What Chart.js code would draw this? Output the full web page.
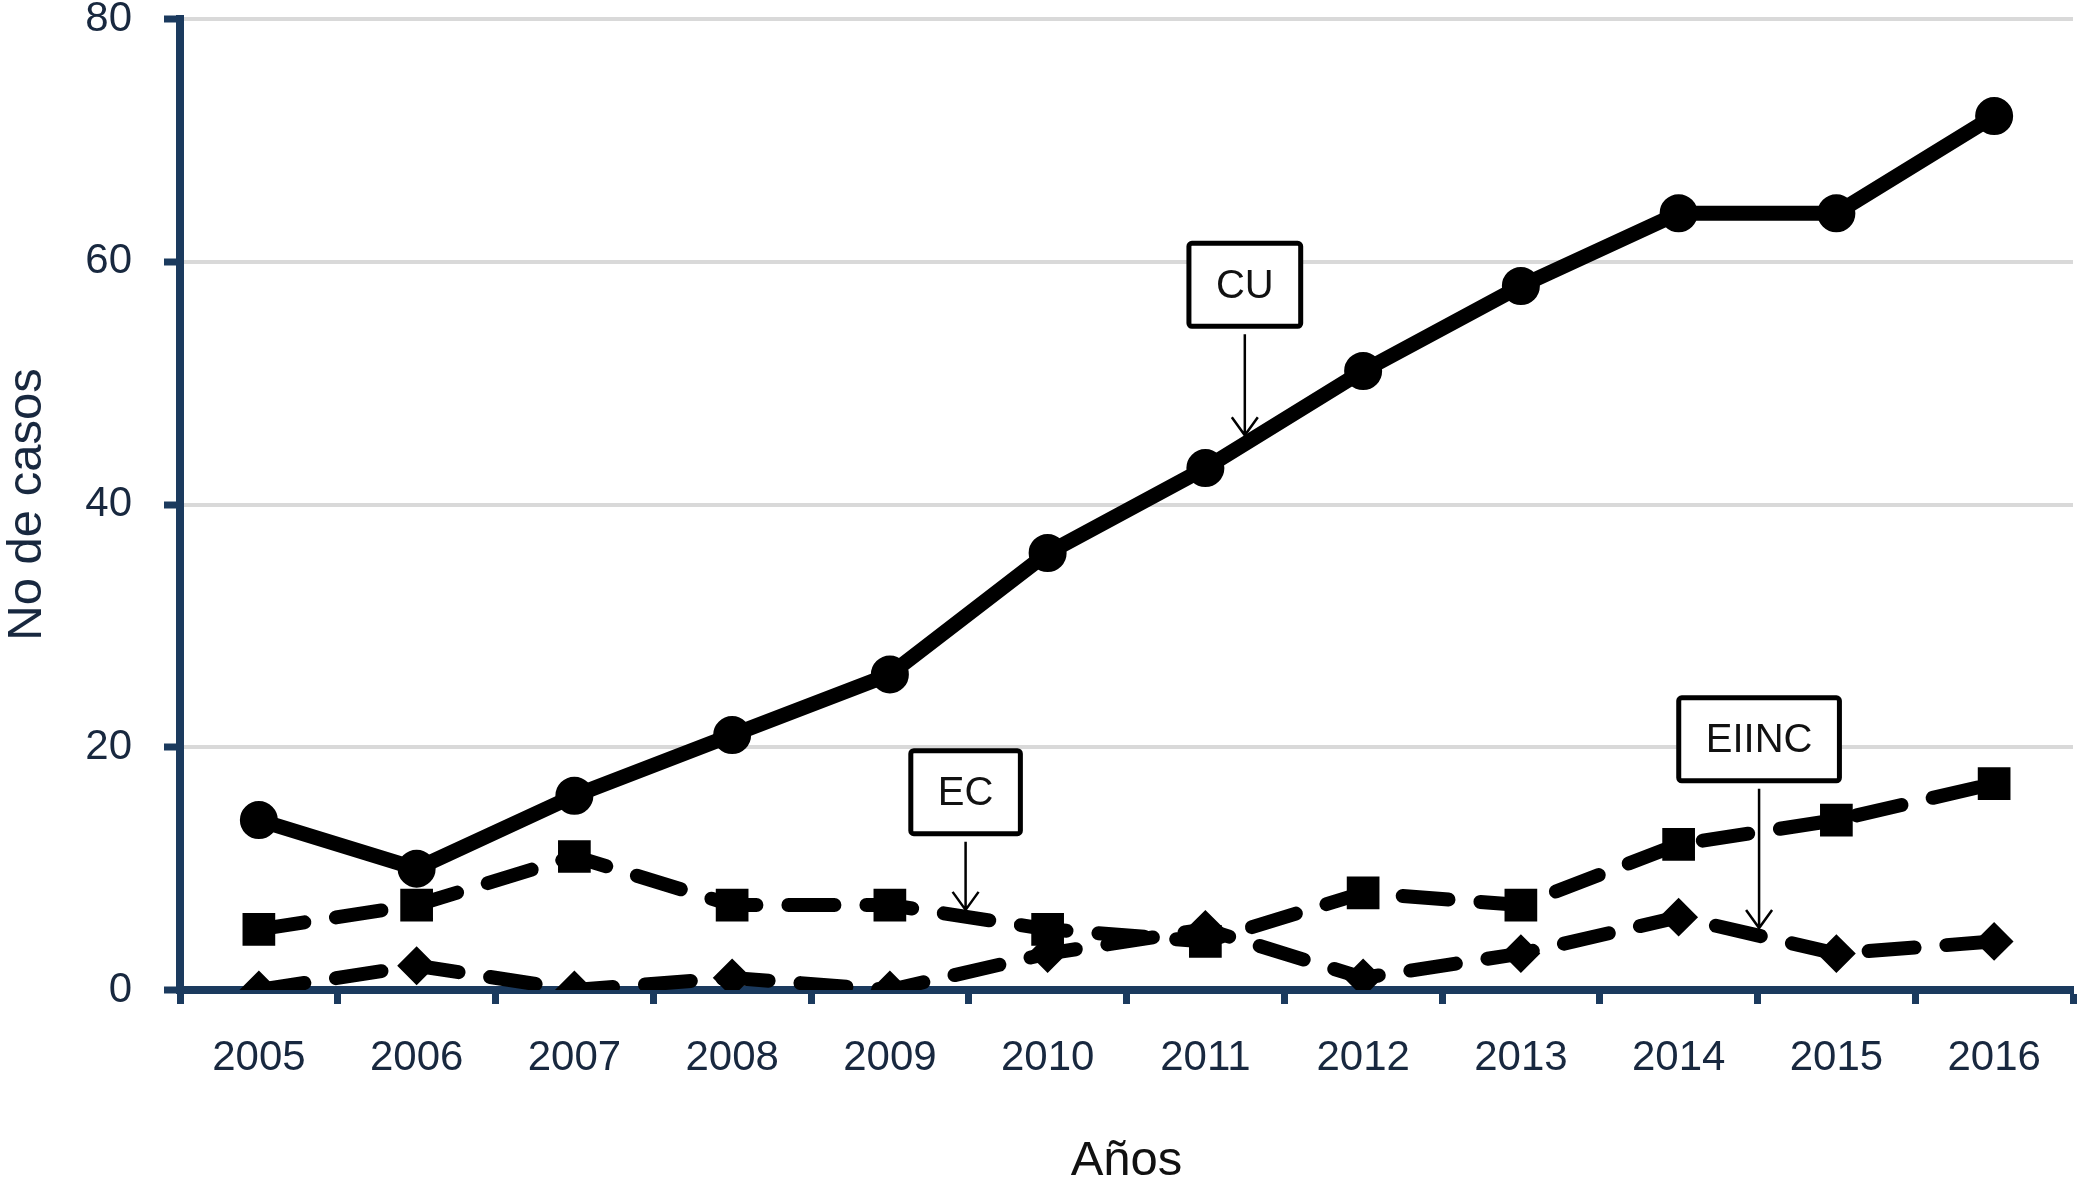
<!DOCTYPE html>
<html>
<head>
<meta charset="utf-8">
<script src="https://cdn.jsdelivr.net/npm/chart.js@4.4.1/dist/chart.umd.min.js"></script>
<style>
  html, body { margin: 0; padding: 0; background: #fff; }
  canvas { display: block; }
</style>
</head>
<body>
<canvas id="chart" width="2080" height="1190"></canvas>
<script>
const years = ['2005', '2006', '2007', '2008', '2009', '2010', '2011', '2012', '2013', '2014', '2015', '2016'];
const cuValues = [14, 10, 16, 21, 26, 36, 43, 51, 58, 64, 64, 72];
const ecValues = [5, 7, 11, 7, 7, 5, 4, 8, 7, 12, 14, 17];
const eiincValues = [0, 2, 0, 1, 0, 3, 5, 1, 3, 6, 3, 4];
const yTicks = [0, 20, 40, 60, 80];

const navy = '#1b3a5e';
const labelColor = '#18283f';
const family = '"Liberation Sans", Arial, Helvetica, sans-serif';

// boxed labels with an arrow pointing at each series
// at = category index, box = box centre, tip = arrow tip (both in casos)
const callouts = [
  { text: 'CU', at: 6.25, box: 58.1, tip: 45.7 },
  { text: 'EC', at: 4.48, box: 16.3, tip: 6.6 },
  { text: 'EIINC', at: 9.51, box: 20.65, tip: 5.1 }
];

const calloutPlugin = {
  id: 'callouts',
  afterDatasetsDraw(chart) {
    const { ctx, scales: { x, y } } = chart;
    ctx.save();
    ctx.font = '40px ' + family;
    ctx.textAlign = 'center';
    ctx.textBaseline = 'middle';
    callouts.forEach(c => {
      const cx = x.getPixelForValue(c.at);
      const cy = y.getPixelForValue(c.box);
      const tipY = y.getPixelForValue(c.tip);
      const w = ctx.measureText(c.text).width + 54;
      const h = 83;

      ctx.beginPath();
      ctx.roundRect(cx - w / 2, cy - h / 2, w, h, 3);
      ctx.fillStyle = '#fff';
      ctx.fill();
      ctx.lineWidth = 5;
      ctx.strokeStyle = '#000';
      ctx.stroke();

      ctx.fillStyle = '#111';
      ctx.fillText(c.text, cx, cy + 2);

      ctx.beginPath();
      ctx.lineWidth = 2.5;
      ctx.moveTo(cx, cy + h / 2 + 8);
      ctx.lineTo(cx, tipY);
      ctx.moveTo(cx - 13, tipY - 18);
      ctx.lineTo(cx, tipY);
      ctx.lineTo(cx + 13, tipY - 18);
      ctx.stroke();
    });
    ctx.restore();
  }
};

const dashed = {
  borderColor: '#000',
  backgroundColor: '#000',
  pointBorderColor: '#000',
  pointBackgroundColor: '#000',
  borderWidth: 14,
  borderDash: [46, 32],
  borderCapStyle: 'round',
  borderJoinStyle: 'round',
  tension: 0
};

new Chart(document.getElementById('chart'), {
  type: 'line',
  data: {
    labels: years,
    datasets: [
      {
        label: 'CU',
        data: cuValues,
        borderColor: '#000',
        backgroundColor: '#000',
        pointBackgroundColor: '#000',
        pointBorderColor: '#000',
        borderWidth: 15,
        borderJoinStyle: 'round',
        pointStyle: 'circle',
        pointRadius: 18,
        pointBorderWidth: 2,
        tension: 0
      },
      Object.assign({ label: 'EC', data: ecValues, pointStyle: 'rect', pointRadius: 21, pointBorderWidth: 3 }, dashed),
      Object.assign({ label: 'EIINC', data: eiincValues, pointStyle: 'rectRot', pointRadius: 18, pointBorderWidth: 2 }, dashed)
    ]
  },
  options: {
    responsive: false,
    animation: false,
    layout: { autoPadding: false, padding: { top: 19, right: 7, left: 0, bottom: 0 } },
    plugins: {
      legend: { display: false },
      tooltip: { enabled: false }
    },
    scales: {
      x: {
        offset: true,
        grid: { offset: true, drawOnChartArea: false, drawTicks: true, tickLength: 14, tickWidth: 7, tickColor: navy },
        border: { color: navy, width: 8 },
        ticks: { color: labelColor, font: { size: 42, family: family, lineHeight: 1 }, padding: 33, maxRotation: 0, autoSkip: false },
        title: { display: true, text: 'Años', color: '#111', font: { size: 49, family: family, lineHeight: 1 }, padding: { top: 0, bottom: 4 } },
        afterFit: s => {
          s.height = 200;
          s.paddingLeft = 0;
          s.paddingRight = 0;
        }
      },
      y: {
        min: 0,
        max: 80,
        afterBuildTicks: s => { s.ticks = yTicks.map(v => ({ value: v })); },
        grid: { color: '#d9d9d9', lineWidth: 4, tickColor: navy, tickWidth: 7, tickLength: 16 },
        border: { color: navy, width: 8 },
        ticks: { color: labelColor, font: { size: 42, family: family, lineHeight: 0.9 }, padding: 32 },
        title: { display: true, text: 'No de casos', color: labelColor, font: { size: 49, family: family, lineHeight: 1 }, padding: { top: 3, bottom: 0 } },
        afterFit: s => {
          s.width = 180;
          s.paddingTop = 0;
          s.paddingBottom = 0;
        }
      }
    }
  },
  plugins: [calloutPlugin]
});
</script>
</body>
</html>
